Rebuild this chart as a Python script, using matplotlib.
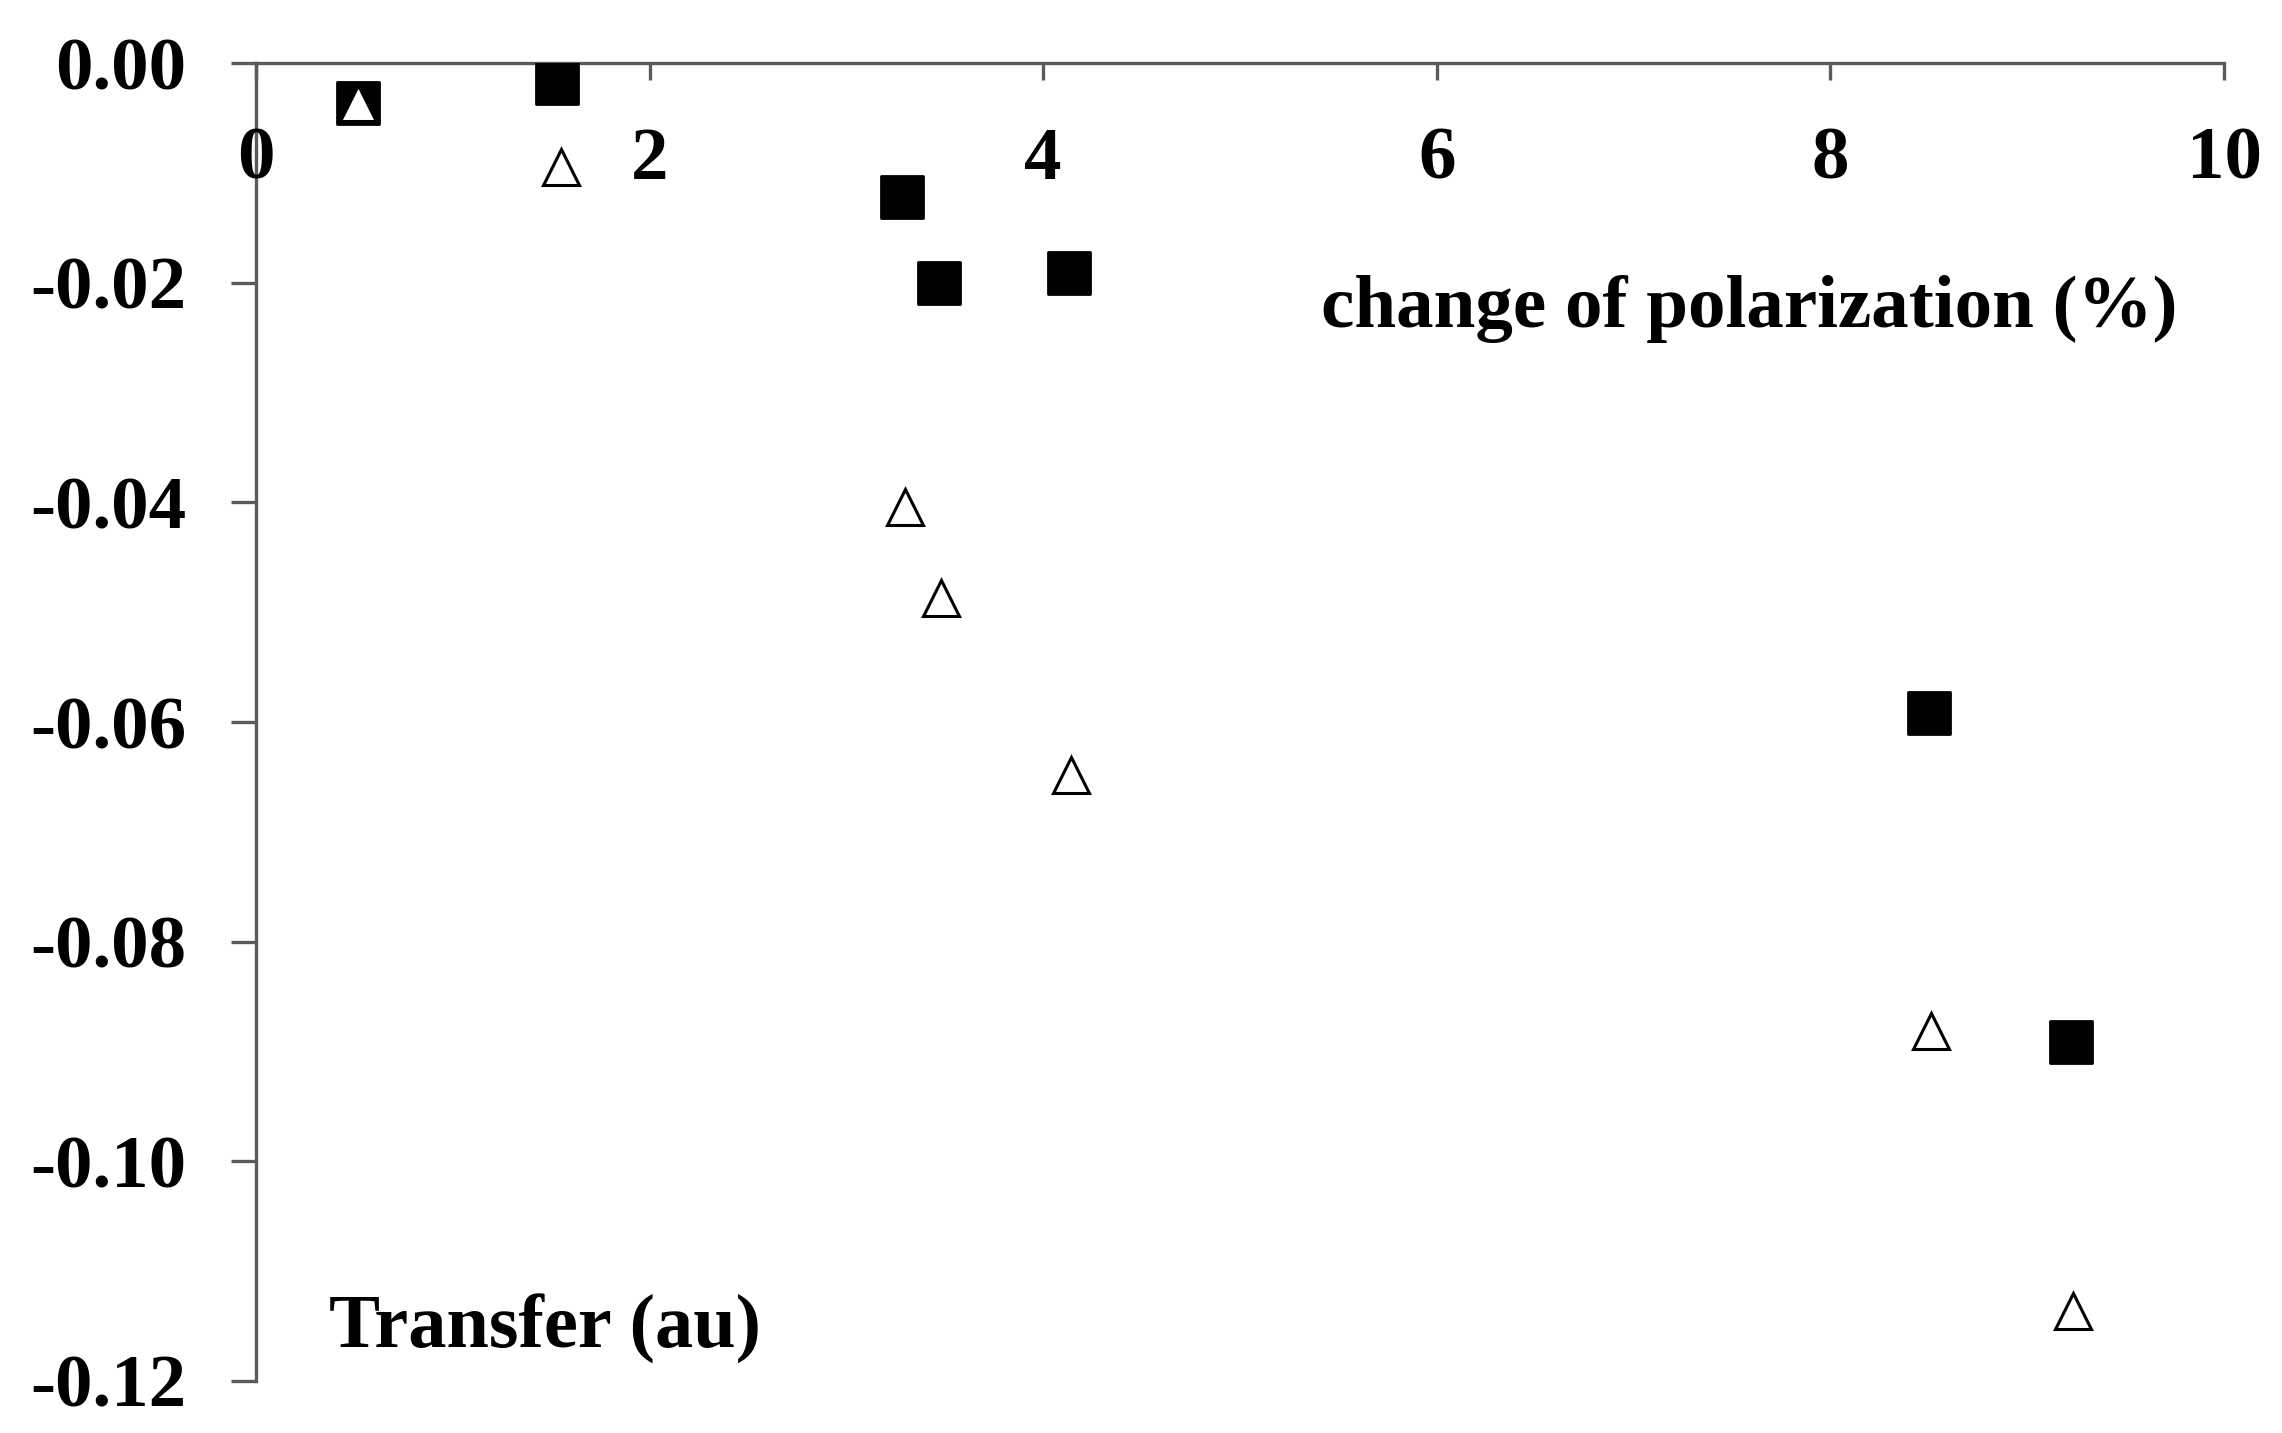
import matplotlib
matplotlib.use("Agg")
import matplotlib.pyplot as plt
from matplotlib.markers import MarkerStyle
from matplotlib.ticker import FormatStrFormatter

# values
sq_x = [0.52, 1.53, 3.28, 3.47, 4.13, 8.50, 9.22]
sq_y = [-0.0036, -0.0018, -0.0122, -0.0200, -0.0191, -0.0592, -0.0891]
tri_x = [0.52, 1.55, 3.30, 3.48, 4.14, 8.51, 9.23]
tri_y = [-0.0036, -0.0095, -0.0404, -0.0487, -0.0648, -0.0881, -0.1136]
xticks = [0, 2, 4, 6, 8, 10]
yticks = [0.00, -0.02, -0.04, -0.06, -0.08, -0.10, -0.12]

plt.rcParams['font.family'] = ['Liberation Serif', 'DejaVu Serif']
plt.rcParams['font.weight'] = 'bold'
plt.rcParams['axes.unicode_minus'] = False

fig = plt.figure(figsize=(22.82, 14.33), dpi=100)
ax = fig.add_axes([0.1122, 0.0363, 0.8624, 0.9197])

sq = MarkerStyle('s', joinstyle='round')
ax.plot(sq_x, sq_y, linestyle='none', marker=sq, markersize=30,
        markerfacecolor='black', markeredgecolor='black', markeredgewidth=2)
ax.plot(tri_x, tri_y, linestyle='none', marker='^', markersize=26,
        markerfacecolor='white', markeredgecolor='black', markeredgewidth=2.2)

ax.set_xlim(0, 10)
ax.set_ylim(-0.12, 0.0)
ax.set_xticks(xticks)
ax.set_yticks(yticks)
ax.yaxis.set_major_formatter(FormatStrFormatter('%.2f'))

spine_col = '#5a5a5a'
ax.spines['top'].set_visible(False)
ax.spines['right'].set_visible(False)
ax.spines['bottom'].set_position(('data', 0))
for s in ['bottom', 'left']:
    ax.spines[s].set_color(spine_col)
    ax.spines[s].set_linewidth(2.4)
    ax.spines[s].set_zorder(0)

ax.tick_params(axis='x', direction='out', length=12, width=2.4, color=spine_col,
               labelsize=54, pad=34)
ax.tick_params(axis='y', direction='out', length=18, width=2.4, color=spine_col,
               labelsize=54, pad=32)
for lab in ax.get_xticklabels() + ax.get_yticklabels():
    lab.set_fontweight('bold')

ax.text(5.41, -0.0224, 'change of polarization (%)', fontsize=54, fontweight='bold',
        va='center', ha='left')
ax.text(0.37, -0.1153, 'Transfer (au)', fontsize=55, fontweight='bold',
        va='center', ha='left')

fig.savefig('out.png', dpi=100)
